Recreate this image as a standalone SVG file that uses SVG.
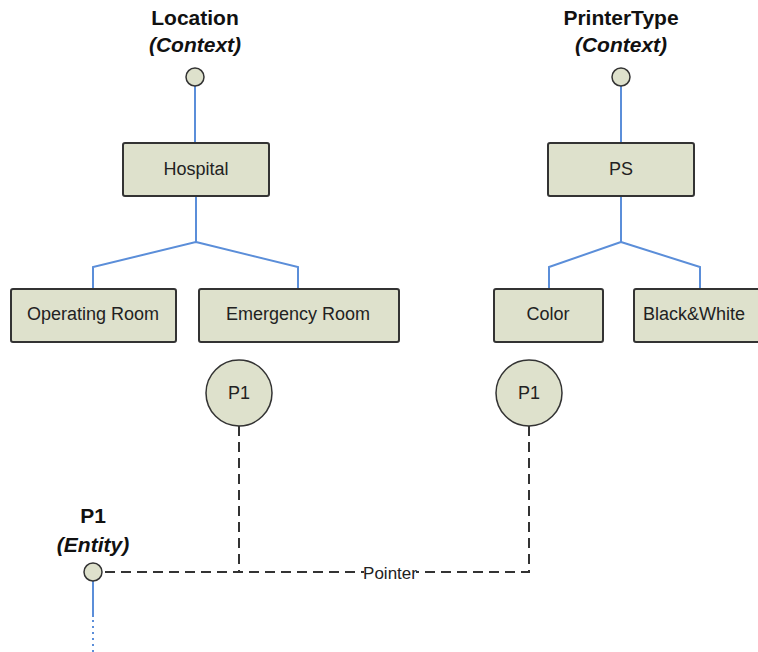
<svg xmlns="http://www.w3.org/2000/svg" width="758" height="652" viewBox="0 0 758 652">
<style>
.box{fill:#dee1cc;stroke:#333;stroke-width:2}
.dot{fill:#dee1cc;stroke:#333;stroke-width:1.5}
.blue{fill:none;stroke:#5b8ed9;stroke-width:2}
.dash{fill:none;stroke:#333;stroke-width:2;stroke-dasharray:10 6}
.lbl{font-family:"Liberation Sans",Arial,sans-serif;font-size:18px;fill:#222;text-anchor:middle;dominant-baseline:central}
.title{font-family:"Liberation Sans",Arial,sans-serif;font-size:21px;font-weight:bold;fill:#111;text-anchor:middle}
.sub{font-style:italic}
</style>
<rect width="758" height="652" fill="#fff"/>
<g id="connectors">
<path class="blue" d="M195 86V143"/>
<path class="blue" d="M196 196V242L93 267V289M196 242L298 267V289"/>
<path class="blue" d="M621 86V143"/>
<path class="blue" d="M621 196V242L549 267V289M621 242L700 267V289"/>
<path class="dash" d="M239 426V572"/>
<path class="dash" d="M529 426V572H102"/>
<path class="blue" d="M93 581V617" stroke="#8aaee0"/>
<path class="blue" d="M93 620V652" stroke="#8aaee0" stroke-dasharray="2 4"/>
<rect x="364" y="562" width="52" height="20" fill="#fff"/>
<text class="lbl" x="390" y="573" style="font-size:17px">Pointer</text>
</g>
<g id="location">
<text class="title" x="195" y="25">Location</text>
<text class="title sub" x="195" y="52">(Context)</text>
<circle class="dot" cx="195" cy="77" r="9"/>
</g>
<g id="printertype">
<text class="title" x="621" y="25">PrinterType</text>
<text class="title sub" x="621" y="52">(Context)</text>
<circle class="dot" cx="621" cy="77" r="9"/>
</g>
<g id="hospital"><rect class="box" x="123" y="143" width="146" height="53" rx="2"/><text class="lbl" x="196" y="169">Hospital</text></g>
<g id="operating-room"><rect class="box" x="11" y="289" width="165" height="53" rx="2"/><text class="lbl" x="93" y="314">Operating Room</text></g>
<g id="emergency-room"><rect class="box" x="199" y="289" width="200" height="53" rx="2"/><text class="lbl" x="298" y="314">Emergency Room</text></g>
<g id="ps"><rect class="box" x="548" y="143" width="146" height="53" rx="2"/><text class="lbl" x="621" y="169">PS</text></g>
<g id="color"><rect class="box" x="494" y="289" width="109" height="53" rx="2"/><text class="lbl" x="548" y="314">Color</text></g>
<g id="black-white"><rect class="box" x="634" y="289" width="130" height="53" rx="2"/><text class="lbl" x="694" y="314">Black&amp;White</text></g>
<g id="p1-location"><circle class="dot" cx="239" cy="393" r="33"/><text class="lbl" x="239" y="393">P1</text></g>
<g id="p1-printer"><circle class="dot" cx="529" cy="393" r="33"/><text class="lbl" x="529" y="393">P1</text></g>
<g id="p1-entity">
<text class="title" x="93" y="523">P1</text>
<text class="title sub" x="93" y="552">(Entity)</text>
<circle class="dot" cx="93" cy="572" r="9"/>
</g>
</svg>
